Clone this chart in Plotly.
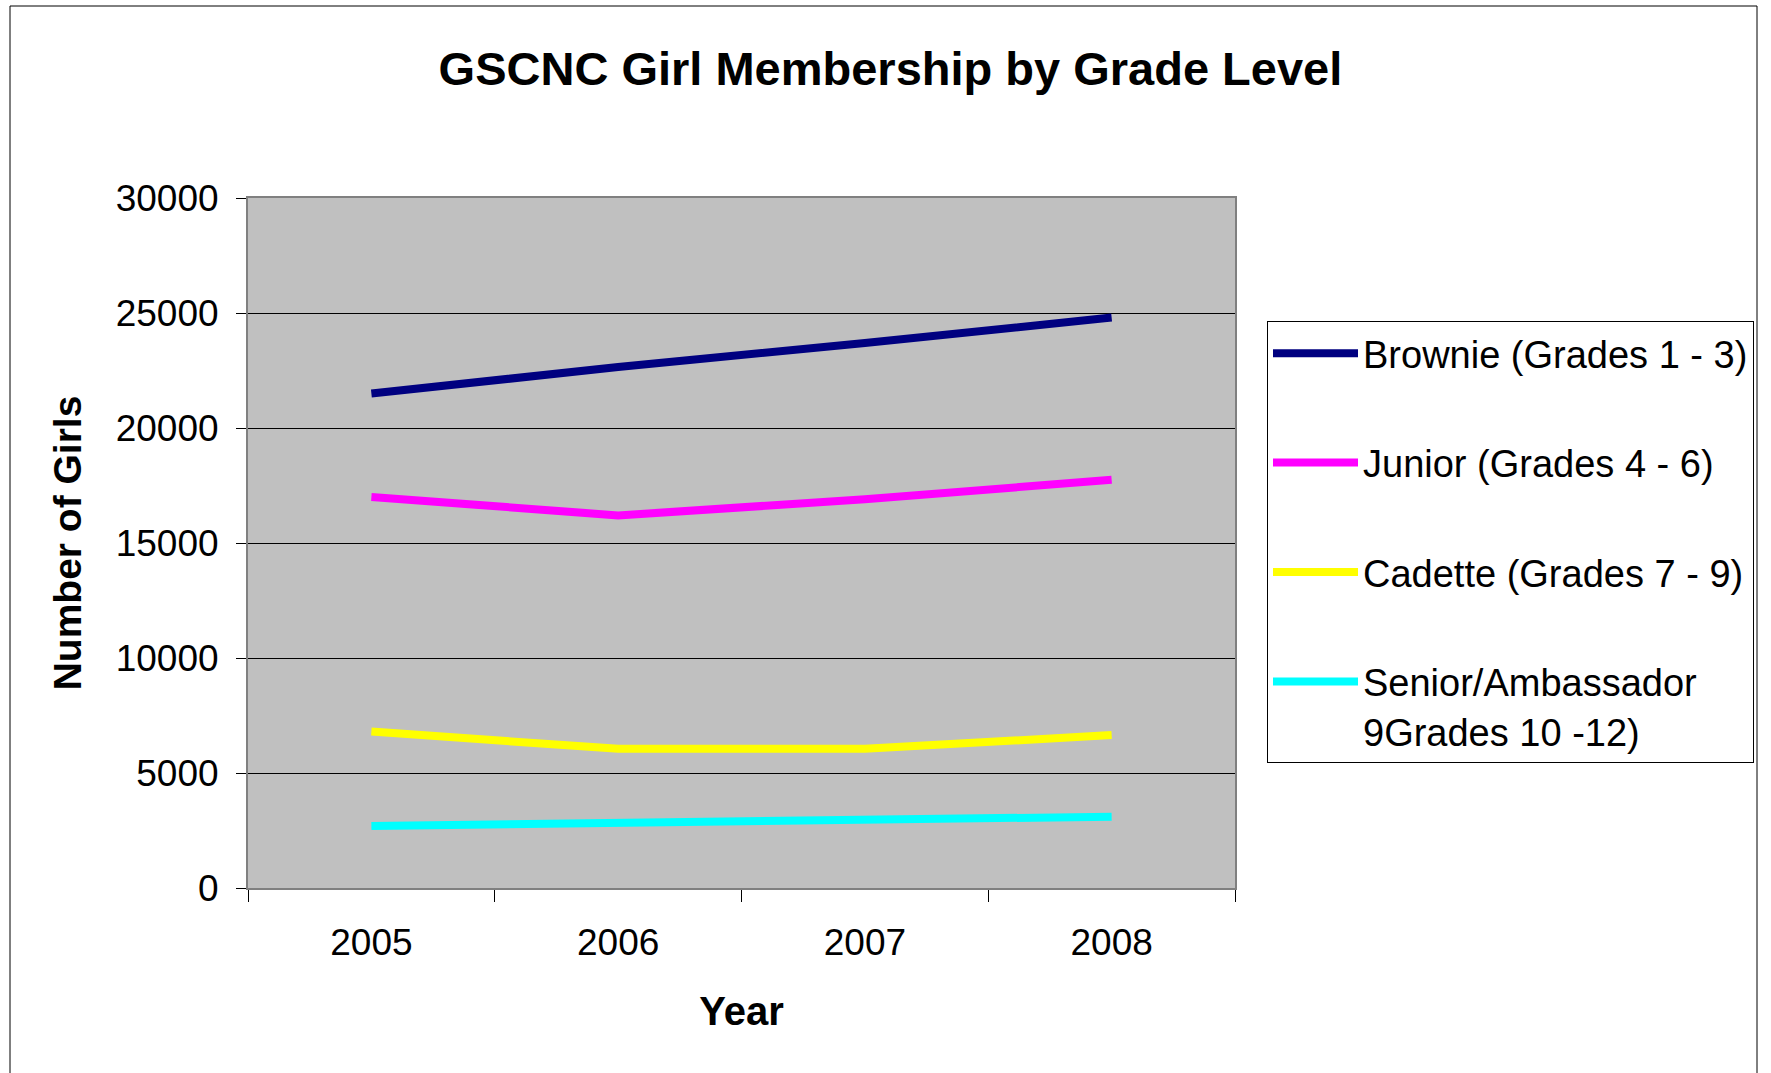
import plotly.graph_objects as go

years = ["2005", "2006", "2007", "2008"]
series_names = [
    "Brownie (Grades 1 - 3)",
    "Junior (Grades 4 - 6)",
    "Cadette (Grades 7 - 9)",
    "Senior/Ambassador<br>9Grades 10 -12)",
]
brownie = [21500, 22650, 23700, 24800]
junior = [17000, 16200, 16900, 17750]
cadette = [6800, 6050, 6050, 6650]
senior = [2700, 2850, 2950, 3100]
colors = ["#000080", "#FF00FF", "#FFFF00", "#00FFFF"]
y_ticks = [0, 5000, 10000, 15000, 20000, 25000, 30000]

W, H = 1771, 1073
L, R, T, B = 248, 536, 198, 185
FONT = "Liberation Sans, Arial, sans-serif"

fig = go.Figure()
for i, (name, vals) in enumerate(zip(series_names, [brownie, junior, cadette, senior])):
    fig.add_trace(go.Scatter(
        x=years, y=vals, mode="lines", name=name,
        legendgroup=f"g{i}",
        line=dict(color=colors[i], width=8),
    ))

pw = W - L - R
ph = H - T - B
def px_to_paper_x(px):
    return (px - L) / pw
def px_to_paper_y(py):
    return (H - B - py) / ph

fig.update_layout(
    width=W, height=H,
    margin=dict(l=L, r=R, t=T, b=B),
    paper_bgcolor="white",
    plot_bgcolor="#C0C0C0",
    font=dict(family=FONT, color="black", size=37),
    title=dict(
        text="<b>GSCNC Girl Membership by Grade Level</b>",
        x=0.5028, xanchor="center", xref="container",
        y=1 - 69 / H, yanchor="middle", yref="container",
        font=dict(size=47, family=FONT, color="black"),
    ),
    showlegend=True,
    legend=dict(
        x=px_to_paper_x(1267), y=px_to_paper_y(321),
        xanchor="left", yanchor="top",
        bgcolor="white", bordercolor="black", borderwidth=1,
        font=dict(size=38, family=FONT, color="black"),
        tracegroupgap=57, itemwidth=85, valign="top",
    ),
    xaxis=dict(
        type="category",
        range=[-0.5, 3.5],
        tickson="boundaries",
        ticks="outside", ticklen=12, tickcolor="black", tickwidth=1,
        showgrid=False,
        showline=True, linecolor="#808080", linewidth=2, mirror=True,
        tickfont=dict(size=37, family=FONT, color="black"),
        ticklabelstandoff=21,
        title=dict(text="<b>Year</b>", standoff=35,
                   font=dict(size=40, family=FONT, color="black")),
    ),
    yaxis=dict(
        range=[0, 30000],
        tickvals=y_ticks,
        ticktext=[str(v) for v in y_ticks],
        ticks="outside", ticklen=10, tickcolor="black", tickwidth=1,
        showgrid=True, gridcolor="black", gridwidth=1,
        zeroline=False,
        showline=True, linecolor="#808080", linewidth=2, mirror=True,
        tickfont=dict(size=37, family=FONT, color="black"),
        ticklabelstandoff=10,
        title=dict(text="<b>Number of Girls</b>", standoff=22,
                   font=dict(size=39, family=FONT, color="black")),
    ),
    shapes=[dict(
        type="rect", xref="paper", yref="paper",
        x0=px_to_paper_x(10), x1=px_to_paper_x(1757),
        y0=px_to_paper_y(1090), y1=px_to_paper_y(6),
        line=dict(color="black", width=1), fillcolor="rgba(0,0,0,0)",
        layer="below",
    )],
)

fig.write_html("out.html")
